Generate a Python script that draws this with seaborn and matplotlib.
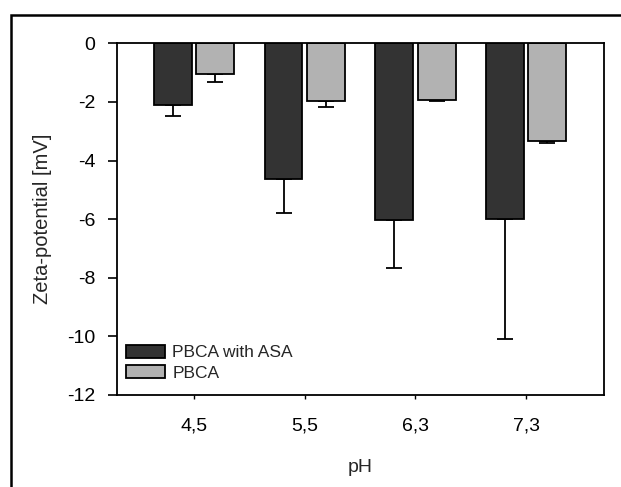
import matplotlib
matplotlib.use("Agg")
import matplotlib.pyplot as plt
import seaborn as sns
import pandas as pd
import numpy as np
from matplotlib.patches import Rectangle

categories = ["4,5", "5,5", "6,3", "7,3"]
series_names = ["PBCA with ASA", "PBCA"]
asa_values = [-2.12, -4.63, -6.03, -5.98]
asa_err = [0.35, 1.17, 1.65, 4.11]
pbca_values = [-1.06, -1.96, -1.93, -3.33]
pbca_err = [0.25, 0.22, 0.04, 0.08]
y_ticks = [0, -2, -4, -6, -8, -10, -12]

sns.set_style("ticks")
plt.rcParams['font.family'] = ['Liberation Sans', 'DejaVu Sans']
plt.rcParams['axes.unicode_minus'] = False

df = pd.DataFrame({
    "pH": categories * 2,
    "value": asa_values + pbca_values,
    "series": [series_names[0]] * 4 + [series_names[1]] * 4,
})

fig = plt.figure(figsize=(6.21, 4.87), dpi=100)
ax = fig.add_axes([0.188, 0.189, 0.7846, 0.722])

palette = {series_names[0]: "#333333", series_names[1]: "#b2b2b2"}
sns.barplot(data=df, x="pH", y="value", hue="series", order=categories,
            hue_order=series_names, palette=palette, width=0.76, gap=0.1,
            edgecolor="black", linewidth=1.3, errorbar=None, ax=ax, zorder=2)

errs = [asa_err, pbca_err]
for cont, err in zip(ax.containers, errs):
    xs = [b.get_x() + b.get_width() / 2 for b in cont]
    ys = [min(b.get_y(), b.get_y() + b.get_height()) for b in cont]
    ax.errorbar(xs, ys, yerr=[err, [0] * len(err)], fmt="none", ecolor="black",
                elinewidth=1.3, capsize=6, capthick=1.3, zorder=1)

ax.set_ylim(-12, 0)
ax.set_xlim(-0.694, 3.70)
ax.set_yticks(y_ticks)
ax.set_yticklabels([str(t) for t in y_ticks])
for s in ax.spines.values():
    s.set_visible(True)
    s.set_linewidth(1.3)
    s.set_color("black")
ax.tick_params(axis="y", direction="out", length=6.5, width=1.2, labelsize=14, pad=9, colors="black")
ax.tick_params(axis="x", direction="out", length=3, width=1.0, labelsize=14, pad=13, colors="black")
ax.set_xlabel("pH", fontsize=14, labelpad=18)
ax.set_ylabel("Zeta-potential [mV]", fontsize=14.5, labelpad=11)

leg = ax.legend(loc="lower left", bbox_to_anchor=(0.018, 0.04), frameon=False,
                fontsize=12.5, handlelength=2.3, handleheight=0.75,
                handletextpad=0.4, labelspacing=0.3, borderaxespad=0, borderpad=0)
for h in leg.legend_handles:
    h.set_edgecolor("black")
    h.set_linewidth(1.3)

fig.patches.append(Rectangle((11 / 621, -0.01), 1.0, 1 - 15 / 487 + 0.01,
                             transform=fig.transFigure, fill=False,
                             edgecolor="black", linewidth=1.8))

fig.savefig("out.png", dpi=100)
